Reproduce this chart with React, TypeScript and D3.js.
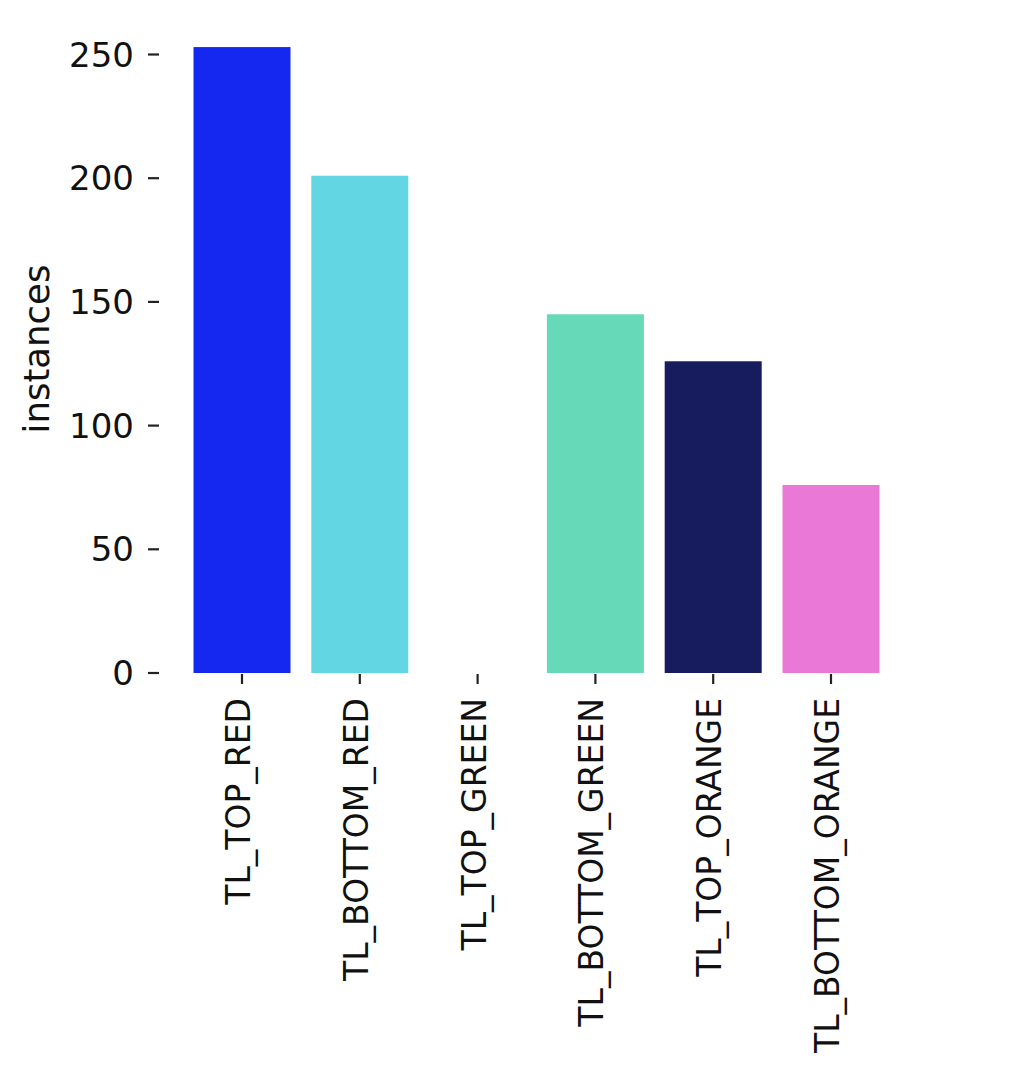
import React from "react";
import * as d3 from "d3";

const categories = ["TL_TOP_RED", "TL_BOTTOM_RED", "TL_TOP_GREEN", "TL_BOTTOM_GREEN", "TL_TOP_ORANGE", "TL_BOTTOM_ORANGE"];
const values = [253, 201, 0, 145, 126, 76];
const colors = ["#1428f0", "#62d6e3", "#7fd07f", "#66d9b8", "#161c5e", "#ea78d6"];
const yTicks = [0, 50, 100, 150, 200, 250];
const yLabel = "instances";

const W = 1030;
const H = 1080;
const FONT = "'DejaVu Sans', sans-serif";
const FS = 33;

export default function App() {
  const x = d3.scaleBand<string>().domain(categories).range([183.1, 889.9]).paddingInner(0.176).paddingOuter(0.088);
  const y = d3.scaleLinear().domain([0, 250]).range([673, 54.5]);
  const bw = x.bandwidth();
  return (
    <div style={{ position: "absolute", left: 0, top: 0, background: "#fff" }}>
      <svg width={W} height={H} style={{ display: "block" }}>
        <rect width={W} height={H} fill="#fff" />
        {categories.map((c, i) => {
          const cx = (x(c) as number) + bw / 2;
          const top = y(values[i]);
          return (
            <g key={c}>
              {values[i] > 0 && (
                <rect x={cx - 48.5} y={top} width={97} height={y(0) - top} fill={colors[i]} />
              )}
              <line x1={cx} x2={cx} y1={674} y2={684} stroke="#222" strokeWidth={2.2} />
              <text
                transform={`translate(${cx - 3.5},${698}) rotate(-90)`}
                textAnchor="end"
                dominantBaseline="central"
                fontFamily={FONT}
                fontSize={FS}
                fill="#111"
              >
                {c}
              </text>
            </g>
          );
        })}
        {yTicks.map((t) => (
          <g key={t}>
            <line x1={148} x2={159} y1={y(t)} y2={y(t)} stroke="#222" strokeWidth={2.2} />
            <text x={134} y={y(t)} textAnchor="end" dominantBaseline="central" fontFamily={FONT} fontSize={34} fill="#111">
              {t}
            </text>
          </g>
        ))}
        <text
          transform={`translate(${36},${349}) rotate(-90)`}
          textAnchor="middle"
          dominantBaseline="central"
          fontFamily={FONT}
          fontSize={35.5}
          fill="#111"
        >
          {yLabel}
        </text>
      </svg>
    </div>
  );
}
